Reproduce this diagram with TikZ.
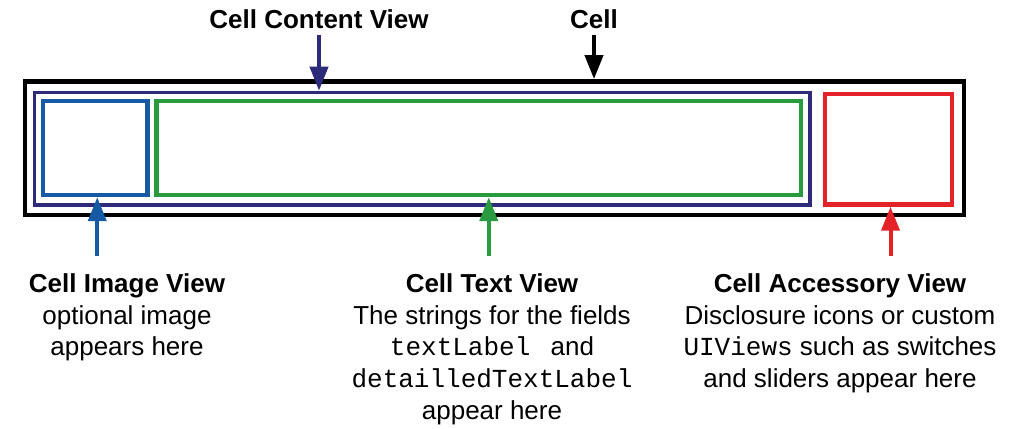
\documentclass[tikz,border=0pt]{standalone}
\usepackage{fontspec}
\setmainfont{Liberation Sans}
\setmonofont{Liberation Mono}
\usetikzlibrary{arrows.meta}
\definecolor{viewnavy}{RGB}{46,42,122}
\definecolor{viewblue}{RGB}{22,90,165}
\definecolor{viewgreen}{RGB}{40,155,65}
\definecolor{viewred}{RGB}{228,35,40}
\begin{document}
\begin{tikzpicture}[x = 0.5pt,y = -0.5pt,
        cellbox/.style = {draw,inner sep = 0pt,line width = 2.2pt},
        tag/.style = {font = {\fontsize{13}{15.9}\selectfont \bfseries},anchor = base},
        note/.style = {font = {\fontsize{13}{15.9}\selectfont},align = center,anchor = north,inner xsep = 0pt,inner ysep = 8.5pt},
        pointer/.style = {line width = 2pt,-{Triangle[width = 9pt,length = 12pt]}}]
        \useasboundingbox (0,0) rectangle (1027,428);
        % the boxes
        \node[cellbox,line width = 2.4pt,minimum width = 469.5pt,minimum height = 66.75pt] (cell) at (494.5,148.25) {};
        \node[cellbox,draw = viewnavy,line width = 1.8pt,minimum width = 387.75pt,minimum height = 56.25pt] (content) at (422.25,148.75) {};
        \node[cellbox,draw = viewblue,minimum width = 52.25pt,minimum height = 47pt] (image) at (95.25,148) {};
        \node[cellbox,draw = viewgreen,minimum width = 322.25pt,minimum height = 47pt] (text) at (478.75,148) {};
        \node[cellbox,draw = viewred,minimum width = 63.5pt,minimum height = 55.25pt] (accessory) at (888.5,149.25) {};

        % labels above
        \node[tag] (contentlbl) at (319,28) {Cell Content View};
        \node[tag] (celllbl) at (594,28) {Cell};
        \draw[pointer,viewnavy] (contentlbl.south) -- (contentlbl.south |- content.north);
        \draw[pointer] (celllbl.south) -- (celllbl.south |- cell.north);

        % labels below
        \node[note] (imagelbl) at (127,256) {\textbf{Cell Image View}\\optional image\\appears here};
        \node[note] (textlbl) at (492,256) {\textbf{Cell Text View}\\The strings for the fields\\\texttt{textLabel}\hspace{0.5em} and\\\texttt{detailledTextLabel}\\appear here};
        \node[note] (accessorylbl) at (840,256) {\textbf{Cell Accessory View}\\Disclosure icons or custom\\\texttt{UIViews} such as switches\\and sliders appear here};
        \draw[pointer,viewblue] ([xshift = 1pt]image.south |- imagelbl.north) -- ([xshift = 1pt]image.south);
        \draw[pointer,viewgreen] ([xshift = 5pt]text.south |- textlbl.north) -- ([xshift = 5pt]text.south);
        \draw[pointer,viewred] ([xshift = 1pt]accessory.south |- accessorylbl.north) -- ([xshift = 1pt]accessory.south);
    \end{tikzpicture}
\end{document}
